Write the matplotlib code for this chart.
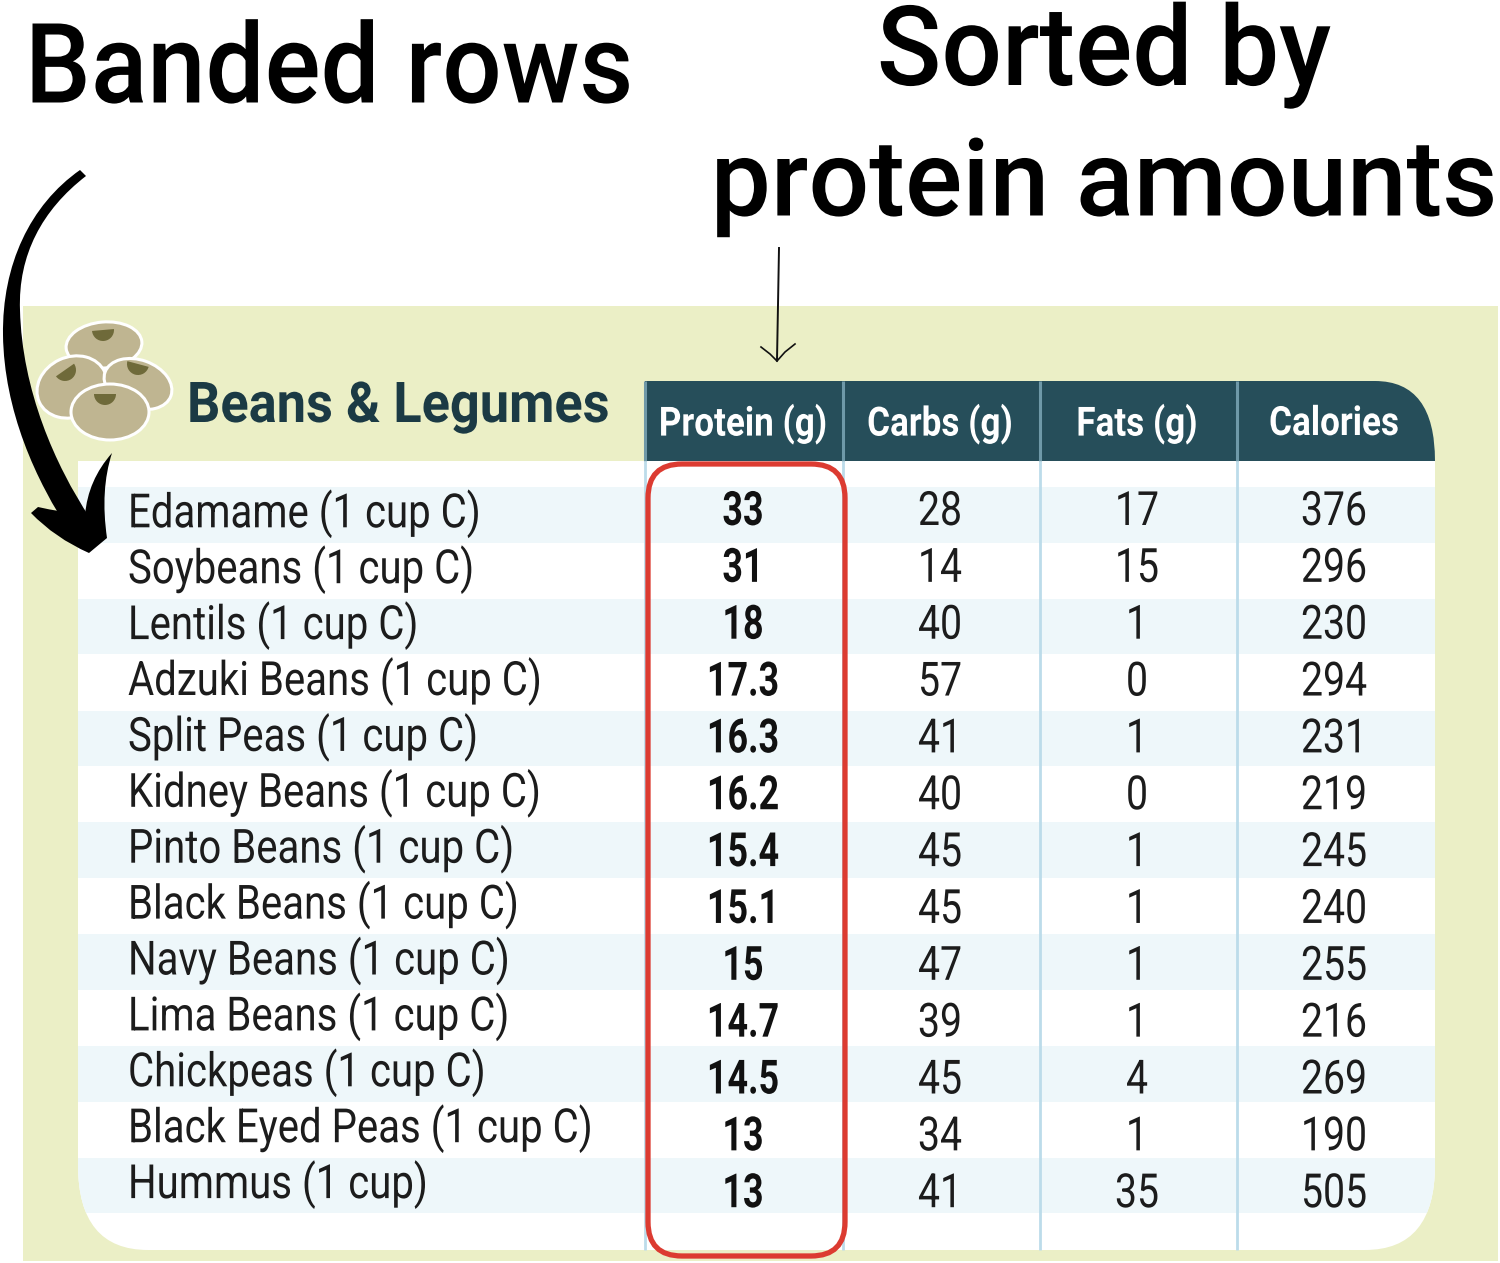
import matplotlib
matplotlib.use('Agg')
import matplotlib.pyplot as plt
from matplotlib import patheffects
from matplotlib.patches import Rectangle, FancyBboxPatch, PathPatch, Ellipse, Wedge
from matplotlib.path import Path
from matplotlib.transforms import Affine2D

foods = ['Edamame (1 cup C)', 'Soybeans (1 cup C)', 'Lentils (1 cup C)', 'Adzuki Beans (1 cup C)',
         'Split Peas (1 cup C)', 'Kidney Beans (1 cup C)', 'Pinto Beans (1 cup C)', 'Black Beans (1 cup C)',
         'Navy Beans (1 cup C)', 'Lima Beans (1 cup C)', 'Chickpeas (1 cup C)', 'Black Eyed Peas (1 cup C)',
         'Hummus (1 cup)']
protein = ['33', '31', '18', '17.3', '16.3', '16.2', '15.4', '15.1', '15', '14.7', '14.5', '13', '13']
carbs = [28, 14, 40, 57, 41, 40, 45, 45, 47, 39, 45, 34, 41]
fats = [17, 15, 1, 0, 1, 0, 1, 1, 1, 1, 4, 1, 35]
calories = [376, 296, 230, 294, 231, 219, 245, 240, 255, 216, 269, 190, 505]
headers = ['Protein (g)', 'Carbs (g)', 'Fats (g)', 'Calories']

FONT = 'Roboto'
GREEN = '#ebefc6'
BAND = '#eef7fa'
DARK = '#264e5a'
LINE = '#bcdcea'
RED = '#dc3b31'
BEAN = '#bfb591'
SPOT = '#6f6a3a'


class Squeeze(patheffects.AbstractPathEffect):
    """narrow the glyphs around x0 (no condensed font installed)"""

    def __init__(self, x0, sx):
        super().__init__()
        self.x0 = x0
        self.sx = sx

    def draw_path(self, renderer, gc, tpath, affine, rgbFace=None):
        squeeze = Affine2D().translate(-self.x0, 0).scale(self.sx, 1).translate(self.x0, 0)
        renderer.draw_path(gc, tpath, affine + squeeze, rgbFace)


def label(x, y, s, sx, ha='center', **kw):
    ax.text(x, y, s, ha=ha, va='center', family=FONT, zorder=kw.pop('zorder', 6),
            path_effects=[Squeeze(x, sx)], **kw)


fig = plt.figure(figsize=(15, 12.63), dpi=100)
ax = fig.add_axes([0, 0, 1, 1])
ax.set_xlim(0, 1500)
ax.set_ylim(1263, 0)
ax.axis('off')

# panel
ax.add_patch(Rectangle((23, 306), 1475, 955, fc=GREEN, ec='none', zorder=1))

# white table body, only bottom corners rounded
M, L, C = Path.MOVETO, Path.LINETO, Path.CURVE3
body = Path([(78, 461), (1435, 461), (1435, 1165), (1435, 1250), (1365, 1250),
             (148, 1250), (78, 1250), (78, 1165), (78, 461)],
            [M, L, L, C, C, L, C, C, L])
body_patch = PathPatch(body, fc='white', ec='none', zorder=2)
ax.add_patch(body_patch)

# banded rows
for i in range(0, 13, 2):
    top = 487 + i * 55.9
    band = Rectangle((78, top), 1435 - 78, 55.5, fc=BAND, ec='none', zorder=3)
    ax.add_patch(band)
    band.set_clip_path(body_patch)

# header
head = Path([(645, 381), (1375, 381), (1435, 381), (1435, 461), (645, 461), (645, 381)],
            [M, L, C, C, L, L])
ax.add_patch(PathPatch(head, fc=DARK, ec='none', zorder=4))

# column rules
for x in [645, 843, 1040, 1237]:
    ax.plot([x, x], [381, 461], color='#6f99a8', lw=2.2, zorder=5, solid_capstyle='butt')
    ax.plot([x, x], [461, 1250], color=LINE, lw=2, zorder=5, solid_capstyle='butt')

centers = [743, 940, 1137, 1334]
for cx, h in zip(centers, headers):
    label(cx, 424, h, 0.87, color='white', fontsize=29, fontweight='bold')

# table text
for i in range(13):
    label(128, 514 + i * 55.9, foods[i], 0.85, ha='left', color='#1c1c1c', fontsize=34)
    yv = 512 + i * 56.85
    label(centers[0], yv, protein[i], 0.76, color='#111111', fontsize=34, fontweight='bold')
    label(centers[1], yv, str(carbs[i]), 0.83, color='#1c1c1c', fontsize=34)
    label(centers[2], yv, str(fats[i]), 0.83, color='#1c1c1c', fontsize=34)
    label(centers[3], yv, str(calories[i]), 0.83, color='#1c1c1c', fontsize=34)

# red highlight box
ax.add_patch(FancyBboxPatch((648, 464), 197, 792, boxstyle='round,pad=0,rounding_size=34',
                            fc='none', ec=RED, lw=3.8, zorder=7))

# section title
label(187, 407, 'Beans & Legumes', 0.93, ha='left', color='#1b3a44', fontsize=40.5, fontweight='bold')

# bean icon
bean_shapes = [(104, 345, 76, 46, -5), (72, 387, 72, 60, -25), (138, 384, 70, 48, 20), (110, 412, 78, 56, 0)]
for bx, by, bw, bh, ang in bean_shapes:
    ax.add_patch(Ellipse((bx, by), bw, bh, angle=ang, fc=BEAN, ec='white', lw=2.2, zorder=6))
spots = [(103, 330, -5), (65, 370, -35), (138, 364, 15), (105, 394, 0)]
for sx, sy, ang in spots:
    ax.add_patch(Wedge((sx, sy), 11, ang, ang + 180, fc=SPOT, ec='none', zorder=7))

# annotation headings
label(329, 72, 'Banded rows', 0.94, color='black', fontsize=80, fontweight='medium', zorder=8)
label(1104, 55, 'Sorted by', 0.96, color='black', fontsize=80, fontweight='medium', zorder=8)
label(1104, 186, 'protein amounts', 1.0, color='black', fontsize=77, fontweight='medium', zorder=8)

# hand drawn thick arrow
K = Path.CURVE4
shaft = Path([(80, 170), (30, 205), (2, 265), (3, 335), (4, 410), (35, 480), (72, 535),
              (90, 518), (55, 465), (22, 390), (20, 310), (18, 255), (42, 210), (86, 176)],
             [M, K, K, K, K, K, K, L, K, K, K, K, K, K])
ax.add_patch(PathPatch(shaft, fc='black', ec='none', zorder=9))
tip = Path([(112, 453), (88, 480), (85, 515), (60, 512), (38, 507), (31, 513),
            (55, 538), (89, 553), (107, 538), (100, 490), (112, 453)],
           [M, C, C, C, C, L, C, C, L, C, C])
ax.add_patch(PathPatch(tip, fc='black', ec='none', zorder=9))

# thin arrow
ax.plot([779, 778, 777], [248, 305, 360], color='#111111', lw=1.4, zorder=9)
ax.plot([761, 770, 777], [347, 354, 361], color='#111111', lw=1.2, zorder=9)
ax.plot([795, 785, 777], [344, 352, 361], color='#111111', lw=1.2, zorder=9)

fig.savefig('out.png', dpi=100)
